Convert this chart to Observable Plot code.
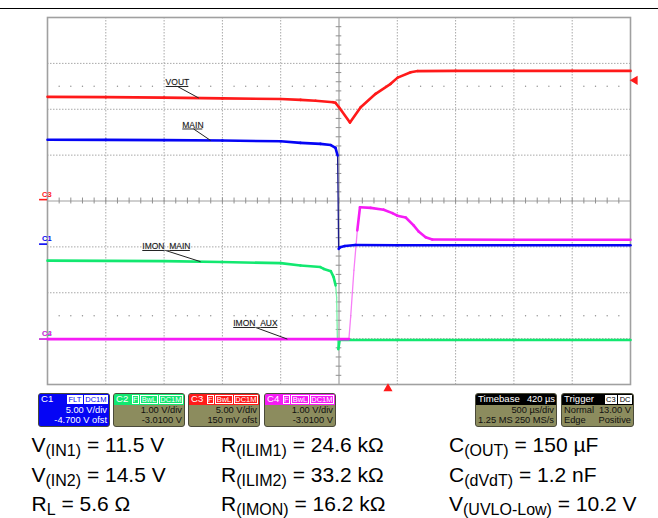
<!DOCTYPE html>
<html><head><meta charset="utf-8">
<script src="https://cdn.jsdelivr.net/npm/d3@7"></script>
<script src="https://cdn.jsdelivr.net/npm/@observablehq/plot@0.6"></script>
<style>
body{margin:0;background:#fff;font-family:"Liberation Sans",Arial,sans-serif;}
#page{position:relative;width:658px;height:518px;overflow:hidden;background:#fff;}
#rule{position:absolute;left:0;top:7.5px;width:658px;height:1.5px;background:#000;}
.box{position:absolute;top:393px;height:34px;border:1px solid #4a4a3a;border-radius:3px;box-sizing:border-box;font-size:9.3px;line-height:10.6px;overflow:hidden;background:#8c8c5e;color:#111;white-space:nowrap;}
.hdr{height:10.6px;display:flex;align-items:center;padding:0 1px 0 2px;color:#fff;}
.hdr .nm{flex:1;font-size:9.6px;}
.badge{border:1px solid #fff;padding:0 0.5px;margin-left:1px;font-size:7.5px;line-height:7.5px;height:7.5px;}
.row{display:flex;justify-content:space-between;padding:0 2px;}
.row .r{margin-left:auto;}
.eq{position:absolute;font-size:21px;line-height:21px;color:#000;white-space:nowrap;}
.eq .sub{font-size:16px;position:relative;top:4px;}
</style></head><body><div id="page"><div id="rule"></div></div>
<script>
// ---------------- data ----------------
// time in ms from the left edge of the screen (10 div x 0.5 ms/div)
const voutT = [0, 0.5, 1.0, 1.5, 2.0, 2.17, 2.3, 2.45, 2.47, 2.5, 2.594, 2.686, 2.814, 2.943, 3.003, 3.115, 3.175, 3.5, 4.0, 4.5, 5.0];
const voutV = [11.20, 11.17, 11.12, 11.03, 10.96, 10.87, 10.78, 10.62, 10.55, 10.07, 8.40, 10.07, 11.53, 12.62, 13.3, 13.88, 14.01, 14.03, 14.03, 14.03, 14.03];

const mainT = [0, 0.5, 1.0, 1.5, 2.0, 2.17, 2.34, 2.43, 2.47, 2.488, 2.497, 2.51, 2.55, 2.64, 3.0, 4.0, 5.0];
const mainV = [11.37, 11.36, 11.33, 11.29, 11.21, 11.04, 10.93, 10.8, 10.50, 9.66, -0.51, -0.33, -0.2, -0.09, -0.12, -0.12, -0.12];

const imonMainT = [0, 1.0, 1.49, 2.0, 2.17, 2.34, 2.37, 2.43, 2.454, 2.471, 2.48, 2.486, 2.494, 2.506, 3.0, 4.0, 5.0];
const imonMainV = [1.71, 1.70, 1.68, 1.655, 1.605, 1.57, 1.53, 1.48, 1.35, 1.17, 0.91, 0.0, -0.22, -0.02, -0.02, -0.02, -0.02];

const imonAuxT = [0, 1.0, 2.0, 2.585, 2.60, 2.628, 2.657, 2.68, 2.772, 2.883, 2.958, 3.0, 3.072, 3.14, 3.183, 3.243, 3.30, 4.0, 5.0];
const imonAuxV = [0, 0, 0, 0, 0.48, 1.50, 2.37, 2.875, 2.86, 2.82, 2.745, 2.69, 2.65, 2.48, 2.345, 2.22, 2.17, 2.165, 2.165];

// channel settings (C1..C4)
const chNames = ["C1", "C2", "C3", "C4"];
const chVdiv = [5, 1, 5, 1];
const chOffset = [-4.7, -3.01, 0.15, -3.01];
const chOffsetText = ["-4.700 V ofst", "-3.0100 V", "150 mV ofst", "-3.0100 V"];
const chBadges = [["FLT", "DC1M"], ["F", "BwL", "DC1M"], ["F", "BwL", "DC1M"], ["F", "BwL", "DC1M"]];

// timebase & trigger
const timeDivMs = 0.5;
const timebaseDelay = "420 µs";
const timebaseDivText = "500 µs/div";
const timebaseSamples = "1.25 MS";
const timebaseRate = "250 MS/s";
const trigSource = "C3", trigCoupling = "DC", trigMode = "Normal", trigType = "Edge", trigSlope = "Positive";
const trigLevel = 13.00;          // V on C3
const trigTime = 2.5 + 0.42;      // ms (center + 420 µs delay)

// trace labels
const labelNames = ["VOUT", "MAIN", "IMON_MAIN", "IMON_AUX"];
const labelChannel = [2, 0, 1, 3];

// test conditions
const paramSym = ["V", "V", "R", "R", "R", "R", "C", "C", "V"];
const paramSub = ["(IN1)", "(IN2)", "L", "(ILIM1)", "(ILIM2)", "(IMON)", "(OUT)", "(dVdT)", "(UVLO-Low)"];
const paramVal = ["11.5 V", "14.5 V", "5.6 Ω", "24.6 kΩ", "33.2 kΩ", "16.2 kΩ", "150 µF", "1.2 nF", "10.2 V"];

// ---------------- styles ----------------
const chColors = ["#0505f5", "#12e870", "#ff1a1a", "#f51cf5"];
const edgeColors = ["#1a1a8a", "#7af0a8", "#ff1a1a", "#f77ef7"];
const gridColor = "#a8a8a8";

// ---------------- build ----------------
const toDiv = (v, ch) => (v + chOffset[ch]) / chVdiv[ch];
const traceData = (ts, vs, ch) => ts.map((t, i) => ({t, y: toDiv(vs[i], ch)}));
const traces = [
  {ch: 0, data: traceData(mainT, mainV, 0), interp: d3.scaleLinear().domain(mainT).range(mainV)},
  {ch: 1, data: traceData(imonMainT, imonMainV, 1), interp: d3.scaleLinear().domain(imonMainT).range(imonMainV)},
  {ch: 3, data: traceData(imonAuxT, imonAuxV, 3), interp: d3.scaleLinear().domain(imonAuxT).range(imonAuxV)},
  {ch: 2, data: traceData(voutT, voutV, 2), interp: d3.scaleLinear().domain(voutT).range(voutV)}
];
const traceByCh = ch => traces.find(d => d.ch === ch);

// segments: fast edges are drawn thinner, like the scope's low-intensity edges
const pxPerMs = 583 / 5, pxPerDiv = 367 / 8;
function segments(tr) {
  const out = [];
  for (let i = 1; i < tr.data.length; i++) {
    const a = tr.data[i - 1], b = tr.data[i];
    const slope = Math.abs((b.y - a.y) * pxPerDiv) / Math.max(1e-6, (b.t - a.t) * pxPerMs);
    const fast = slope > 10;
    out.push({x1: a.t, y1: a.y, x2: b.t, y2: b.y, w: fast ? 1.3 : 2.6, c: fast ? edgeColors[tr.ch] : chColors[tr.ch], fast});
  }
  return out;
}

// annotation layout (ms, divisions)
const ann = [
  {x: 1.013, y: 2.496, w: 0.195, s: 1.115, tip: 1.298},
  {x: 1.156, y: 1.57, w: 0.172, s: 1.253, tip: 1.399},
  {x: 0.813, y: -1.079, w: 0.408, s: 1.013, tip: 1.313},
  {x: 1.593, y: -2.757, w: 0.378, s: 1.785, tip: 2.057}
].map((a, i) => {
  const ch = labelChannel[i];
  return {...a, text: labelNames[i], tipY: toDiv(traceByCh(ch).interp(a.tip), ch)};
});

const span = 10 * timeDivMs;
const gridX = d3.range(1, 10).filter(i => i !== 5).map(i => i * timeDivMs);
const gridY = [-3, -2, -1, 1, 2, 3];
const minorX = d3.range(1, 50).map(i => i * timeDivMs / 5);
const minorY = d3.range(-19, 20).filter(i => i !== 0).map(i => i * 0.2);
const dotRows = [];
for (const yy of [2.5, -2.5]) for (const i of d3.range(1, 50)) if (i % 5 !== 0) dotRows.push({t: i * timeDivMs / 5, y: yy});

const gnd = [2, 0, 1, 3];

const plot = Plot.plot({
  width: 658, height: 392,
  marginLeft: 47, marginRight: 28, marginTop: 17, marginBottom: 8,
  x: {domain: [0, span], axis: null},
  y: {domain: [-4, 4], axis: null},
  color: {type: "identity"},
  style: {fontFamily: "Liberation Sans, Arial, sans-serif", background: "transparent", overflow: "visible"},
  marks: [
    Plot.ruleX(gridX, {stroke: gridColor, strokeDasharray: "1.5,1.5", strokeWidth: 1}),
    Plot.ruleY(gridY, {stroke: gridColor, strokeDasharray: "1.5,1.5", strokeWidth: 1}),
    Plot.dot(dotRows, {x: "t", y: "y", r: 0.7, fill: "#909090", stroke: null}),
    Plot.ruleX([span / 2], {stroke: "#a0a0a0", strokeWidth: 1.2}),
    Plot.ruleY([0], {stroke: "#a0a0a0", strokeWidth: 1.2}),
    Plot.ruleX(minorX, {y1: -0.065, y2: 0.065, stroke: "#909090"}),
    Plot.ruleY(minorY, {x1: span / 2 - 0.024, x2: span / 2 + 0.024, stroke: "#909090"}),
    Plot.frame({stroke: "#a0a0a0", strokeWidth: 1.6}),
    // ground markers
    Plot.ruleY(gnd, {y: i => toDiv(0, i), x1: -0.068, x2: 0, stroke: i => chColors[i], strokeWidth: 1.6}),
    Plot.text(gnd, {y: i => toDiv(0, i), frameAnchor: "left", dx: -5.5, dy: -5.5, text: i => chNames[i], fill: i => chColors[i], fontSize: 7.5, fontWeight: "bold"}),
    // traces: fast edges first (thin), then the settled parts
    ...traces.map(tr => Plot.link(segments(tr).filter(s => s.fast), {x1: "x1", y1: "y1", x2: "x2", y2: "y2", stroke: "c", strokeWidth: "w", strokeLinecap: "round"})),
    ...traces.map(tr => Plot.link(segments(tr).filter(s => !s.fast), {x1: "x1", y1: "y1", x2: "x2", y2: "y2", stroke: "c", strokeWidth: "w", strokeLinecap: "round"})),
    // labels
    Plot.link(ann, {x1: "x", x2: d => d.x + d.w, y1: "y", y2: "y", stroke: "#222", strokeWidth: 1}),
    Plot.link(ann, {x1: "s", y1: "y", x2: "tip", y2: "tipY", stroke: "#222", strokeWidth: 1}),
    Plot.text(ann, {x: "x", y: "y", text: "text", textAnchor: "start", lineAnchor: "bottom", dy: -1, fontSize: 8.5, fill: "#111", stroke: "#ccc", strokeWidth: 0.4}),
    // trigger markers
    Plot.dot([trigTime], {x: d => d, frameAnchor: "bottom", dy: 4, symbol: "triangle", r: 3.4, fill: "#ff1a1a", stroke: null}),
    Plot.dot([trigLevel], {y: d => toDiv(d, 2), frameAnchor: "right", dx: 4.5, symbol: "triangle", rotate: -90, r: 3.4, fill: "#ff1a1a", stroke: null})
  ]
});
plot.style.position = "absolute";
plot.style.left = "0px";
plot.style.top = "0px";
const page = document.getElementById("page");
page.appendChild(plot);

// channel boxes
const boxLeft = [38, 113, 188, 264];
chNames.forEach((nm, i) => {
  const b = document.createElement("div");
  b.className = "box";
  b.style.left = boxLeft[i] + "px";
  b.style.width = "72px";
  if (i === 0) { b.style.background = chColors[0]; b.style.color = "#fff"; }
  const badges = chBadges[i].map(t => i === 0
    ? `<span class="badge" style="background:#fff;color:${chColors[0]}">${t}</span>`
    : `<span class="badge">${t}</span>`).join("");
  b.innerHTML = `<div class="hdr" style="background:${chColors[i]}"><span class="nm">${nm}</span>${badges}</div>
    <div class="row"><span class="r">${chVdiv[i].toFixed(2)} V/div</span></div>
    <div class="row"><span class="r">${chOffsetText[i]}</span></div>`;
  page.appendChild(b);
});
// timebase box
{
  const b = document.createElement("div");
  b.className = "box"; b.style.left = "475px"; b.style.width = "82px";
  b.innerHTML = `<div class="hdr" style="background:#000"><span class="nm">Timebase</span><span>${timebaseDelay}</span></div>
    <div class="row"><span class="r">${timebaseDivText}</span></div>
    <div class="row"><span>${timebaseSamples}</span><span>${timebaseRate}</span></div>`;
  page.appendChild(b);
}
// trigger box
{
  const b = document.createElement("div");
  b.className = "box"; b.style.left = "561px"; b.style.width = "73px";
  b.innerHTML = `<div class="hdr" style="background:#000"><span class="nm">Trigger</span><span class="badge" style="background:#fff;color:#000">${trigSource}</span><span class="badge" style="background:#fff;color:#000">${trigCoupling}</span></div>
    <div class="row"><span>${trigMode}</span><span>${trigLevel.toFixed(2)} V</span></div>
    <div class="row"><span>${trigType}</span><span>${trigSlope}</span></div>`;
  page.appendChild(b);
}
// test conditions
const colX = [31.5, 221, 449];
const rowTop = [434, 463.5, 493];
paramSym.forEach((s, i) => {
  const d = document.createElement("div");
  d.className = "eq";
  d.style.left = colX[Math.floor(i / 3)] + "px";
  d.style.top = rowTop[i % 3] + "px";
  d.innerHTML = `${s}<span class="sub">${paramSub[i]}</span> = ${paramVal[i]}`;
  page.appendChild(d);
});
</script>
</body></html>
